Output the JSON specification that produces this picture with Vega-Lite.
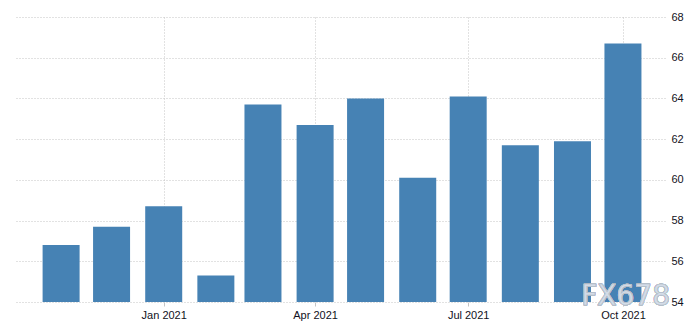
{
  "$schema": "https://vega.github.io/schema/vega-lite/v6.json",
  "width": 651,
  "height": 285,
  "autosize": "none",
  "padding": {"left": 14, "top": 17, "right": 35, "bottom": 33},
  "background": "white",
  "config": {"view": {"stroke": null}, "font": "Liberation Sans"},
  "data": {
    "values": [
      {"date": "2020-11-01", "value": 56.8},
      {"date": "2020-12-01", "value": 57.7},
      {"date": "2021-01-01", "value": 58.7},
      {"date": "2021-02-01", "value": 55.3},
      {"date": "2021-03-01", "value": 63.7},
      {"date": "2021-04-01", "value": 62.7},
      {"date": "2021-05-01", "value": 64.0},
      {"date": "2021-06-01", "value": 60.1},
      {"date": "2021-07-01", "value": 64.1},
      {"date": "2021-08-01", "value": 61.7},
      {"date": "2021-09-01", "value": 61.9},
      {"date": "2021-10-01", "value": 66.7}
    ]
  },
  "encoding": {
    "x": {
      "field": "date",
      "type": "temporal",
      "scale": {
        "type": "utc",
        "nice": false,
        "padding": 0,
        "domain": [
          {"year": 2020, "month": 10, "date": 4, "utc": true},
          {"year": 2021, "month": 10, "date": 26, "utc": true}
        ]
      },
      "axis": {
        "title": null,
        "values": [
          {"year": 2021, "month": 1, "date": 1, "utc": true},
          {"year": 2021, "month": 4, "date": 1, "utc": true},
          {"year": 2021, "month": 7, "date": 1, "utc": true},
          {"year": 2021, "month": 10, "date": 1, "utc": true}
        ],
        "format": "%b %Y",
        "domain": false,
        "grid": true,
        "gridColor": "#c4c4c4",
        "gridDash": [1, 2],
        "gridWidth": 1,
        "ticks": true,
        "tickSize": 4,
        "tickColor": "#c4c4c4",
        "labelFont": "Liberation Sans",
        "labelFontSize": 11,
        "labelColor": "#111122",
        "labelPadding": 3
      }
    },
    "y": {
      "field": "value",
      "type": "quantitative",
      "scale": {"domain": [54, 68], "zero": false, "nice": false},
      "axis": {
        "title": null,
        "orient": "right",
        "values": [54, 56, 58, 60, 62, 64, 66, 68],
        "domain": false,
        "ticks": false,
        "grid": true,
        "gridColor": "#c4c4c4",
        "gridDash": [1, 2],
        "gridWidth": 1,
        "labelFont": "Liberation Sans",
        "labelFontSize": 11,
        "labelColor": "#111122",
        "labelPadding": 6
      }
    }
  },
  "layer": [
    {
      "mark": {"type": "bar", "color": "#4682b4", "size": 37, "clip": true}
    },
    {
      "mark": {
        "type": "text",
        "text": "FX678",
        "font": "DejaVu Sans",
        "fontSize": 28,
        "align": "right",
        "baseline": "middle",
        "color": "#d3dce8",
        "stroke": "#b4bec9",
        "strokeWidth": 0.6,
        "opacity": 0.95,
        "dx": 5
      },
      "encoding": {
        "x": {"datum": {"year": 2021, "month": 10, "date": 26, "utc": true}, "type": "temporal"},
        "y": {"datum": 54.25, "type": "quantitative"}
      }
    }
  ]
}
